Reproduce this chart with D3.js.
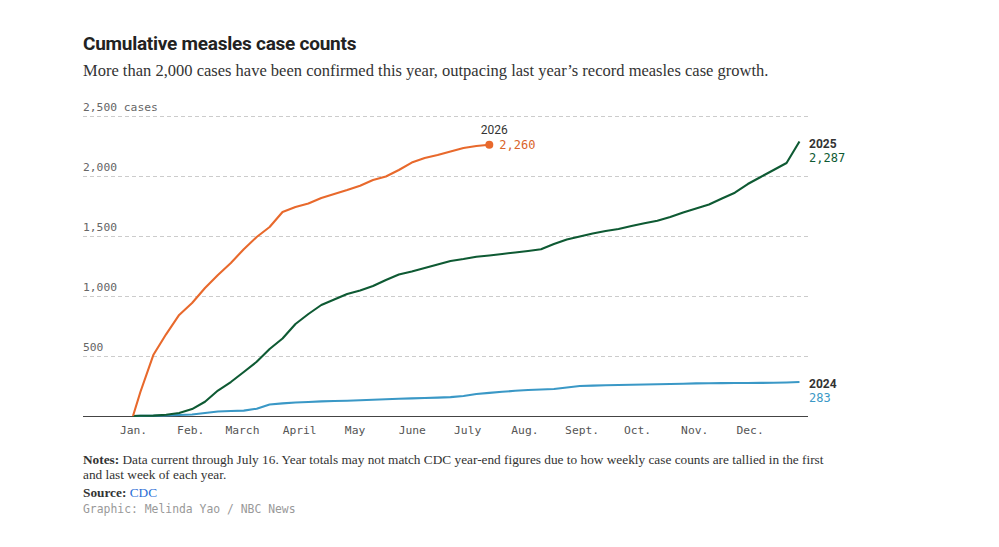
<!DOCTYPE html>
<meta charset="utf-8">
<style>
body { margin: 0; background: #fff; }
.title { font: bold 19px Roboto, sans-serif; fill: #222; letter-spacing: -0.25px; }
.sub { font: 16.5px "Liberation Serif", serif; fill: #333; }
.ylab { font: 11.3px "DejaVu Sans Mono", monospace; fill: #666; }
.grid line { stroke: #ccc; stroke-dasharray: 4 3; }
.note { font: 13.3px "Liberation Serif", serif; fill: #333; }
.credit { font: 11.4px "DejaVu Sans Mono", monospace; fill: #999; }
.yr { font: bold 12px Roboto, sans-serif; fill: #333; }
.val { font: 12px "DejaVu Sans Mono", monospace; }
</style>
<svg width="999" height="547"></svg>
<script src="https://d3js.org/d3.v7.min.js"></script>
<script>

// weekly cumulative counts (week points after the Jan. 1 zero start)
var cases2026 = [200, 508, 683, 842, 942, 1067, 1175, 1275, 1390, 1492, 1575, 1700, 1742, 1771,
  1817, 1850, 1883, 1919, 1967, 1996, 2050, 2112, 2150, 2175, 2204, 2233, 2250, 2260];

var cases2025 = [2, 3, 10, 25, 58, 119, 212, 283, 367, 452, 558, 646, 767, 850, 925, 971, 1017,
  1046, 1083, 1133, 1179, 1204, 1233, 1263, 1292, 1308, 1327, 1338, 1350, 1363, 1375, 1389,
  1433, 1471, 1496, 1521, 1542, 1558, 1583, 1606, 1627, 1658, 1696, 1729, 1763, 1813, 1861,
  1933, 1992, 2050, 2108, 2287];

var cases2024 = [1, 2, 5, 8, 13, 25, 37, 42, 45, 61, 96, 105, 112, 117, 122, 125, 127, 131, 135,
  139, 144, 147, 150, 153, 157, 167, 183, 193, 202, 210, 217, 221, 225, 238, 250, 253, 256, 258,
  261, 263, 265, 267, 269, 272, 273, 274, 275, 275, 276, 277, 279, 283];

var months = ["Jan.", "Feb.", "March", "April", "May", "June", "July", "Aug.", "Sept.", "Oct.", "Nov.", "Dec."];
var yTicks = [500, 1000, 1500, 2000, 2500];

var svg = d3.select("svg");

var x = d3.scaleTime()
    .domain([new Date(2025, 0, 1), new Date(2025, 11, 31)])
    .range([133, 805]);

var y = d3.scaleLinear()
    .domain([0, 2500])
    .range([416, 116]);

// week k ends on day 4 + 7k
function weekDate(k) { return new Date(2025, 0, 5 + 7 * k); }

function series(vals) {
  var pts = [{ date: new Date(2025, 0, 1), v: 0 }];
  vals.forEach(function(v, k) { pts.push({ date: weekDate(k), v: v }); });
  return pts;
}

svg.append("text").attr("class", "title").attr("x", 83).attr("y", 50)
    .text("Cumulative measles case counts");
svg.append("text").attr("class", "sub").attr("x", 83).attr("y", 76)
    .text("More than 2,000 cases have been confirmed this year, outpacing last year\u2019s record measles case growth.");

// gridlines + y labels
var grid = svg.append("g").attr("class", "grid");
grid.selectAll("line").data(yTicks).enter().append("line")
    .attr("x1", 83).attr("x2", 808)
    .attr("y1", function(d) { return y(d) + 0.5; })
    .attr("y2", function(d) { return y(d) + 0.5; });

svg.selectAll(".ylab").data(yTicks).enter().append("text")
    .attr("class", "ylab")
    .attr("x", 83)
    .attr("y", function(d) { return y(d) - 5; })
    .text(function(d) { return d3.format(",")(d) + (d === 2500 ? " cases" : ""); });

// x axis
var xAxis = d3.axisBottom(x)
    .tickValues(months.map(function(m, i) { return new Date(2025, i, 1); }))
    .tickFormat(function(d) { return months[d.getMonth()]; })
    .tickSize(0)
    .tickPadding(10);

var gx = svg.append("g").attr("transform", "translate(0,416)").call(xAxis);
gx.select(".domain").remove();
gx.selectAll("text").style("font", "11.3px 'DejaVu Sans Mono', monospace").style("fill", "#555");

svg.append("line").attr("x1", 83).attr("x2", 808).attr("y1", 416.5).attr("y2", 416.5)
    .attr("stroke", "#444").attr("stroke-width", 1);

var line = d3.line()
    .x(function(d) { return x(d.date); })
    .y(function(d) { return y(d.v); });

var lines = [
  { name: "2024", vals: cases2024, color: "#3a98c6" },
  { name: "2025", vals: cases2025, color: "#0e5a33" },
  { name: "2026", vals: cases2026, color: "#e8692c" }
];

lines.forEach(function(s) {
  s.pts = series(s.vals);
  svg.append("path")
      .datum(s.pts)
      .attr("fill", "none")
      .attr("stroke", s.color)
      .attr("stroke-width", 2.1)
      .attr("stroke-linejoin", "round")
      .attr("d", line);
});

// labels
var l26 = lines[2].pts[lines[2].pts.length - 1];
svg.append("circle").attr("cx", x(l26.date)).attr("cy", y(l26.v)).attr("r", 4).attr("fill", lines[2].color);
svg.append("text").attr("x", x(l26.date) + 5).attr("y", y(l26.v) - 11)
    .attr("text-anchor", "middle").style("font", "12px Roboto, sans-serif").style("fill", "#333").text("2026");
svg.append("text").attr("class", "val").attr("x", x(l26.date) + 10).attr("y", y(l26.v) + 4)
    .style("fill", "#d9642a").text(d3.format(",")(l26.v));

[lines[1], lines[0]].forEach(function(s) {
  var last = s.pts[s.pts.length - 1];
  var ly = y(last.v);
  svg.append("text").attr("class", "yr").attr("x", 809).attr("y", ly + 6).text(s.name);
  svg.append("text").attr("class", "val").attr("x", 809).attr("y", ly + 20)
      .style("fill", s.color).text(d3.format(",")(last.v));
});

// notes
var n1 = svg.append("text").attr("class", "note").attr("x", 83).attr("y", 464);
n1.append("tspan").style("font-weight", "bold").text("Notes:");
n1.append("tspan").text(" Data current through July 16. Year totals may not match CDC year-end figures due to how weekly case counts are tallied in the first");
svg.append("text").attr("class", "note").attr("x", 83).attr("y", 479).text("and last week of each year.");
var src = svg.append("text").attr("class", "note").attr("x", 83).attr("y", 497);
src.append("tspan").style("font-weight", "bold").text("Source: ");
src.append("tspan").style("fill", "#2b6fd6").text("CDC");
svg.append("text").attr("class", "credit").attr("x", 83).attr("y", 513).text("Graphic: Melinda Yao / NBC News");

</script>
